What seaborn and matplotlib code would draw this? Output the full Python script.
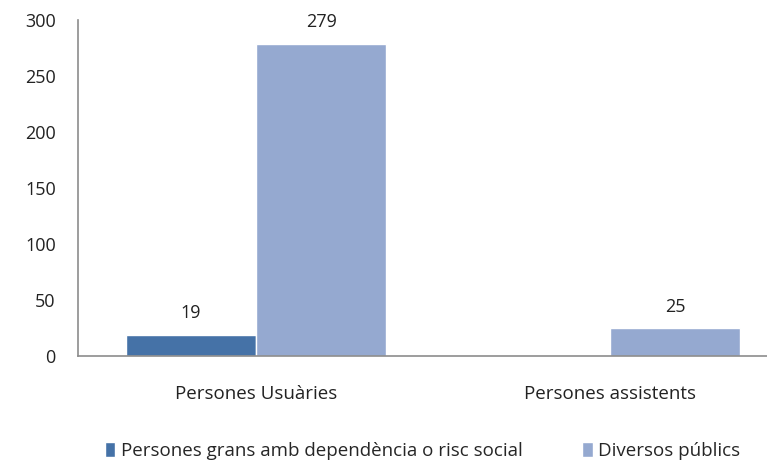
import matplotlib
matplotlib.use('Agg')
import matplotlib.pyplot as plt
import pandas as pd
import seaborn as sns

# Data
categories = ['Persones Usuàries', 'Persones assistents']
series = ['Persones grans amb dependència o risc social', 'Diversos públics']
grans = [19, 0]
diversos = [279, 25]
colors = ['#4572A7', '#95A9D0']

df = pd.DataFrame({
    'categoria': categories * 2,
    'serie': [series[0]] * 2 + [series[1]] * 2,
    'valor': grans + diversos,
})

sns.set_style('white')
plt.rcParams['font.family'] = ['Open Sans', 'DejaVu Sans']

fig = plt.figure(figsize=(7.67, 4.62), dpi=100)
ax = fig.add_axes([0.1017, 0.2294, 0.8983, 0.7273])

sns.barplot(data=df, x='categoria', y='valor', hue='serie', hue_order=series,
            order=categories, palette=colors, width=0.735, gap=0,
            saturation=1, ax=ax, legend=True)

# value labels (skip empty bars)
for cont in ax.containers:
    for bar in cont:
        h = bar.get_height()
        if h > 0:
            ax.text(bar.get_x() + bar.get_width() / 2, h + 11, f'{h:.0f}',
                    ha='center', va='bottom', fontsize=13, color='#222222')

ax.set_ylim(0, 300)
ax.set_xlim(-0.503, 1.443)
ax.set_yticks(range(0, 301, 50))
ax.set_xlabel('')
ax.set_ylabel('')
ax.tick_params(axis='both', length=0, labelsize=13, colors='#222222')
ax.tick_params(axis='x', labelsize=13.5)
ax.tick_params(axis='y', pad=16)
ax.tick_params(axis='x', pad=21)

for side in ['top', 'right']:
    ax.spines[side].set_visible(False)
for side in ['left', 'bottom']:
    ax.spines[side].set_color('#8c8c8c')
    ax.spines[side].set_linewidth(1.2)

ax.legend(loc='lower center', bbox_to_anchor=(0.5, -0.36), ncol=2,
          frameon=False, fontsize=13.5, handlelength=0.55, handleheight=0.9,
          handletextpad=0.3, columnspacing=3.2)

fig.savefig('out.png', dpi=100)
